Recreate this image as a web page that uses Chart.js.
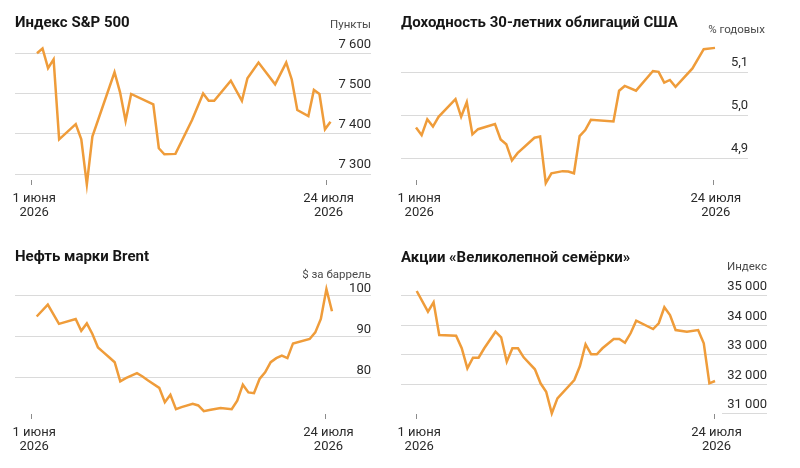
<!DOCTYPE html>
<html lang="ru">
<head>
<meta charset="utf-8">
<script src="https://cdn.jsdelivr.net/npm/chart.js@4.4.1/dist/chart.umd.min.js"></script>
<style>
  html, body { margin: 0; padding: 0; background: #fff; }
  #wrap { position: relative; width: 800px; height: 468px; overflow: hidden; }
  canvas { position: absolute; }
</style>
</head>
<body>
<div id="wrap">
  <canvas id="sp" width="400" height="234" style="left:0;top:0"></canvas>
  <canvas id="bond" width="415" height="234" style="left:385px;top:0"></canvas>
  <canvas id="brent" width="400" height="234" style="left:0;top:234px"></canvas>
  <canvas id="mag" width="415" height="234" style="left:385px;top:234px"></canvas>
</div>
<script>
// дни считаем от 1 июня 2026
const dateLabels = [['1 июня', '2026'], ['24 июля', '2026']];

// S&P 500, пункты
const spDays   = [0, 1, 2, 3, 4, 7, 8, 9, 10, 14, 15, 16, 17, 21, 22, 23, 25, 28, 30, 31, 32, 35, 37, 38, 40, 43, 45, 46, 47, 49, 50, 51, 52, 53];
const spValues = [7600, 7612, 7563, 7585, 7386, 7424, 7386, 7274, 7393, 7553, 7503, 7432, 7499, 7473, 7364, 7349, 7350, 7434, 7500, 7482, 7482, 7532, 7482, 7538, 7577, 7523, 7577, 7535, 7459, 7444, 7509, 7499, 7411, 7430];
const spTicks  = [7300, 7400, 7500, 7600];

// доходность 30-летних, % годовых
const bondDays   = [0, 1, 2, 3, 4, 7, 8, 9, 10, 11, 14, 15, 16, 17, 18, 21, 22, 23, 24, 26, 27, 28, 29, 30, 31, 35, 36, 37, 39, 42, 43, 44, 45, 46, 49, 51, 53];
const bondValues = [4.972, 4.954, 4.991, 4.974, 4.997, 5.038, 4.997, 5.031, 4.956, 4.968, 4.980, 4.944, 4.933, 4.895, 4.912, 4.948, 4.951, 4.842, 4.865, 4.870, 4.869, 4.865, 4.952, 4.966, 4.990, 4.986, 5.058, 5.069, 5.058, 5.104, 5.102, 5.077, 5.083, 5.067, 5.110, 5.155, 5.158];
const bondTicks  = [4.9, 5.0, 5.1];

// Brent, $ за баррель
const brentDays   = [0, 2, 4, 7, 8, 9, 10, 11, 12, 13, 14, 15, 16, 18, 19, 20, 22, 23, 24, 25, 26, 28, 29, 30, 31, 33, 35, 36, 37, 38, 39, 40, 41, 42, 43, 44, 45, 46, 49, 50, 51, 52, 53];
const brentValues = [94.9, 97.8, 93.1, 94.3, 91.4, 93.2, 90.6, 87.3, 86.1, 84.9, 83.7, 79.0, 79.8, 81.0, 80.2, 79.2, 77.4, 73.9, 75.7, 72.2, 72.7, 73.5, 73.1, 71.7, 72.0, 72.5, 72.2, 74.3, 78.2, 76.3, 76.1, 79.6, 81.2, 83.7, 84.7, 85.3, 84.7, 88.3, 89.4, 91.0, 94.3, 101.6, 96.2];
const brentTicks  = [80, 90, 100];

// «Великолепная семёрка», индекс
const magDays   = [0, 2, 3, 4, 7, 8, 9, 10, 11, 12, 14, 15, 16, 17, 18, 19, 21, 22, 23, 24, 25, 28, 29, 30, 31, 32, 33, 35, 36, 37, 38, 39, 42, 43, 44, 45, 46, 48, 50, 51, 52, 53];
const magValues = [35170, 34467, 34786, 33677, 33653, 33226, 32547, 32907, 32907, 33226, 33789, 33599, 32771, 33226, 33226, 32920, 32513, 32038, 31753, 31020, 31529, 32150, 32625, 33361, 33022, 33022, 33226, 33541, 33541, 33416, 33735, 34162, 33880, 34074, 34617, 34355, 33846, 33789, 33846, 33395, 32038, 32116];
const magTicks  = [31000, 32000, 33000, 34000, 35000];

const FONT = 'Roboto, "Liberation Sans", sans-serif';
const LINE = '#ef9c3a';
const GRID = '#dadada';
const TICKMARK = '#8c8c8c';
const TEXT = '#2a2a2a';

Chart.defaults.font.family = FONT;
Chart.defaults.color = TEXT;

function thousands(v) {
    return String(v).replace(/\B(?=(\d{3})+(?!\d))/g, '\u00a0');
}
function decimal(v) {
    return v.toFixed(1).replace('.', ',');
}

function panel(id, p) {
    const ctx = document.getElementById(id).getContext('2d');
    return new Chart(ctx, {
        type: 'line',
        data: {
            datasets: [{
                data: p.days.map((d, i) => ({x: d, y: p.values[i]})),
                borderColor: LINE,
                borderWidth: 2.5,
                pointRadius: 0,
                tension: 0,
                clip: false
            }]
        },
        options: {
            responsive: false,
            animation: false,
            devicePixelRatio: 1,
            layout: {padding: {left: p.padLeft, right: p.padRight, top: 0, bottom: 0}},
            plugins: {
                legend: {display: false},
                tooltip: {enabled: false},
                title: {
                    display: true,
                    text: p.title,
                    align: 'start',
                    color: '#161616',
                    font: {size: 15, weight: 'bold', lineHeight: 1.2},
                    padding: {top: p.titleTop, bottom: 22 - p.titleTop}
                },
                subtitle: {
                    display: true,
                    text: p.unit,
                    align: 'end',
                    color: '#4a4a4a',
                    font: {size: 11.5, lineHeight: 1.2},
                    padding: {top: p.unitY - 46.9, bottom: 33.1 - p.unitY}
                }
            },
            scales: {
                x: {
                    type: 'linear',
                    min: p.xMin,
                    max: p.xMax,
                    afterBuildTicks: s => { s.ticks = p.xTicks.map(v => ({value: v})); },
                    afterFit: s => { s.height = 54; },
                    border: {display: false},
                    grid: {drawOnChartArea: false, drawTicks: true, tickLength: 5, color: TICKMARK, lineWidth: 1},
                    ticks: {
                        autoSkip: false,
                        maxRotation: 0,
                        padding: 7,
                        labelOffset: 2.5,
                        color: TEXT,
                        font: {size: 13, lineHeight: 1.05},
                        callback: (v, i) => dateLabels[i]
                    }
                },
                y: {
                    type: 'linear',
                    position: 'right',
                    min: p.yMin,
                    max: p.yMax,
                    afterBuildTicks: s => { s.ticks = p.yTicks.map(v => ({value: v})); },
                    afterFit: s => { s.width = p.axisWidth; },
                    border: {display: false},
                    grid: {
                        color: c => (c.tick && p.noLine.includes(c.tick.value)) ? 'rgba(0,0,0,0)' : GRID,
                        tickColor: GRID,
                        tickLength: p.tickLength,
                        drawTicks: true,
                        lineWidth: 1
                    },
                    ticks: {
                        crossAlign: p.crossAlign,
                        padding: p.labelPad,
                        labelOffset: p.labelOffset,
                        color: TEXT,
                        font: {size: 13},
                        callback: p.format
                    }
                }
            }
        }
    });
}

panel('sp', {
    title: 'Индекс S&P 500', unit: 'Пункты', titleTop: 14, unitY: 25,
    days: spDays, values: spValues, yTicks: spTicks, format: thousands,
    padLeft: 15, padRight: 29, axisWidth: 36, tickLength: 36, crossAlign: 'far', labelPad: 0, labelOffset: -9,
    xMin: -3.97, xMax: 53.81, xTicks: [-0.96, 52.19],
    yMin: 7285.1, yMax: 7633.1, noLine: []
});

panel('bond', {
    title: 'Доходность 30-летних облигаций США', unit: '% годовых', titleTop: 14, unitY: 30.5,
    days: bondDays, values: bondValues, yTicks: bondTicks, format: decimal,
    padLeft: 16, padRight: 35, axisWidth: 43, tickLength: 26, crossAlign: 'near', labelPad: -17, labelOffset: -10,
    xMin: -2.66, xMax: 54.24, xTicks: [0.12, 52.7],
    yMin: 4.8493, yMax: 5.1764, noLine: []
});

panel('brent', {
    title: 'Нефть марки Brent', unit: '$ за баррель', titleTop: 14, unitY: 41.5,
    days: brentDays, values: brentValues, yTicks: brentTicks, format: v => String(v),
    padLeft: 15, padRight: 29, axisWidth: 36, tickLength: 36, crossAlign: 'far', labelPad: 0, labelOffset: -7,
    xMin: -3.89, xMax: 53.54, xTicks: [-0.9, 51.92],
    yMin: 71.01, yMax: 105.31, noLine: []
});

panel('mag', {
    title: 'Акции «Великолепной семёрки»', unit: 'Индекс', titleTop: 15, unitY: 33.3,
    days: magDays, values: magValues, yTicks: magTicks, format: thousands,
    padLeft: 16, padRight: 33, axisWidth: 45, tickLength: 45, crossAlign: 'far', labelPad: 0, labelOffset: -9,
    xMin: -2.79, xMax: 54.24, xTicks: [0, 52.82],
    yMin: 30996.6, yMax: 35746, noLine: [31000]
});
</script>
</body>
</html>
